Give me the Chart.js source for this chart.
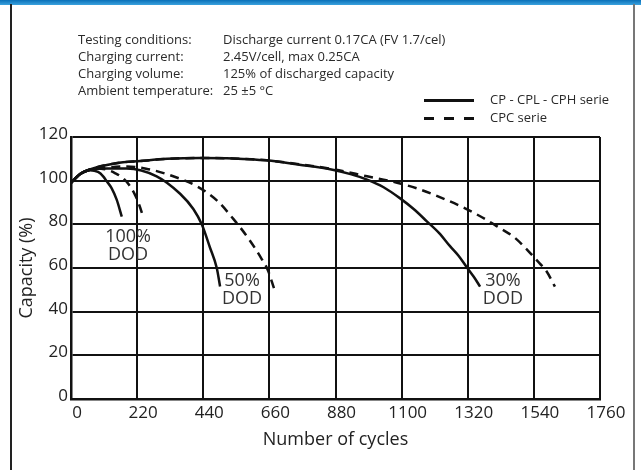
<!DOCTYPE html>
<html><head><meta charset="utf-8">
<script src="https://cdn.jsdelivr.net/npm/chart.js@4"></script>
<style>
html,body{margin:0;padding:0;background:#fff;}
#wrap{position:relative;width:641px;height:470px;overflow:hidden;background:#fff;font-family:"Open Sans",sans-serif;color:#2a2a2a;}
#topbar{position:absolute;left:0;top:0;width:641px;height:5px;background:linear-gradient(#0a70b8,#3aa2de);}
#lb{position:absolute;left:10px;top:4px;width:2px;height:466px;background:#222;}
#rb{position:absolute;left:633px;top:4px;width:2px;height:466px;background:#777;}
.note{position:absolute;font-size:13px;line-height:17px;white-space:nowrap;}
.lg{position:absolute;height:2.5px;background:#111;}
canvas{position:absolute;left:0;top:0;}
</style></head>
<body>
<div id="wrap">
  <canvas id="c" width="641" height="470"></canvas>
  <div id="topbar"></div><div id="lb"></div><div id="rb"></div>
  <div class="note" style="left:78px;top:31px;">Testing conditions:<br>Charging current:<br>Charging volume:<br>Ambient temperature:</div>
  <div class="note" style="left:223px;top:31px;">Discharge current 0.17CA (FV 1.7/cel)<br>2.45V/cell, max 0.25CA<br>125% of discharged capacity<br>25 ±5 °C</div>
  <div class="lg" style="left:424px;top:99px;width:50px;"></div>
  <div class="lg" style="left:424px;top:117px;width:10px;"></div>
  <div class="lg" style="left:444px;top:117px;width:10px;"></div>
  <div class="lg" style="left:464px;top:117px;width:10px;"></div>
  <div class="note" style="left:490px;top:91px;">CP - CPL - CPH serie</div>
  <div class="note" style="left:490px;top:109px;">CPC serie</div>
</div>
<script>
// ---- data ----
const xTickValues = [0, 220, 440, 660, 880, 1100, 1320, 1540, 1760];
const yTickValues = [0, 20, 40, 60, 80, 100, 120];

// CP - CPL - CPH serie (solid)
const cyc100Solid = [0, 30, 63, 90, 107, 119, 135, 152, 169];
const cap100Solid = [99, 103, 104.8, 104, 102, 99.7, 96.6, 91.3, 83.5];

const cyc50Solid = [0, 30, 63, 120, 185, 285, 363, 407, 435, 462, 485, 496];
const cap50Solid = [99, 103, 105, 105.6, 105.6, 102, 94, 87, 80, 69.5, 60, 51.5];

const cyc30Solid = [0, 30, 60, 150, 230, 320, 430, 540, 650, 760, 870, 930, 985, 1040, 1094, 1140, 1183, 1225, 1261, 1290, 1316, 1340, 1361];
const cap30Solid = [99, 103, 105, 108, 109, 110, 110.4, 110.2, 109.3, 107.3, 105, 103, 100.5, 97, 92, 87, 81.5, 76, 70, 65.5, 60.5, 56, 51.5];

// CPC serie (dashed)
const cyc100Dash = [0, 30, 63, 100, 130, 146, 170, 191, 213, 228, 241];
const cap100Dash = [99, 103, 105, 105.5, 104.5, 103.5, 101.5, 98.5, 93.5, 88.5, 83];

const cyc50Dash = [0, 30, 63, 120, 185, 250, 340, 418, 485, 540, 593, 635, 655, 676];
const cap50Dash = [99, 103, 105, 106, 106.5, 105.5, 102, 97.5, 91, 82.5, 73, 64, 59, 50.5];

const cyc30Dash = [0, 30, 60, 150, 230, 320, 430, 540, 650, 760, 870, 985, 1072, 1150, 1261, 1316, 1383, 1430, 1471, 1510, 1538, 1560, 1582, 1610];
const cap30Dash = [99, 103, 105, 108, 109, 110, 110.4, 110.2, 109.3, 107.5, 105.3, 102, 99.5, 96.5, 90.5, 87, 82, 78, 74.5, 69.5, 65.3, 62, 58.5, 51.5];

// DOD annotations: [cycles, capacity, text line 1, text line 2]
const dodLabels = [
  [190, 70, "100%", "DOD"],
  [569, 50, "50%", "DOD"],
  [1437, 50, "30%", "DOD"]
];

const zip = (xs, ys) => xs.map((x, i) => ({x: x, y: ys[i]}));
function ds(xs, ys, dashed) {
  return {
    data: zip(xs, ys), showLine: true, borderColor: '#111', borderWidth: 2.5,
    borderDash: dashed ? [9, 6] : [], pointRadius: 0, fill: false,
    cubicInterpolationMode: 'monotone'
  };
}

const dodPlugin = {
  id: 'dod',
  afterDatasetsDraw(chart) {
    const {ctx, scales: {x, y}} = chart;
    ctx.save();
    ctx.font = '18px "Open Sans"';
    ctx.fillStyle = '#333';
    ctx.textAlign = 'center';
    ctx.textBaseline = 'middle';
    dodLabels.forEach(([cx, cy, t1, t2]) => {
      const px = x.getPixelForValue(cx), py = y.getPixelForValue(cy);
      ctx.fillText(t1, px, py - 9);
      ctx.fillText(t2, px, py + 9);
    });
    ctx.restore();
  }
};

new Chart(document.getElementById('c'), {
  type: 'scatter',
  data: {datasets: [
    ds(cyc100Dash, cap100Dash, true), ds(cyc50Dash, cap50Dash, true), ds(cyc30Dash, cap30Dash, true),
    ds(cyc100Solid, cap100Solid, false), ds(cyc50Solid, cap50Solid, false), ds(cyc30Solid, cap30Solid, false)
  ]},
  options: {
    responsive: false, animation: false,
    layout: {padding: {left: 0, top: 137, right: 41, bottom: 1}},
    plugins: {legend: {display: false}, tooltip: {enabled: false}},
    scales: {
      x: {
        type: 'linear', min: 0, max: 1760,
        afterBuildTicks: s => { s.ticks = xTickValues.map(v => ({value: v})); },
        afterFit: s => { s.height = 70; },
        grid: {color: '#111', lineWidth: 2, drawTicks: false},
        border: {color: '#111', width: 2.5},
        ticks: {color: '#222', font: {family: '"Open Sans"', size: 17}, padding: 4, labelOffset: 6, maxRotation: 0, autoSkip: false,
                callback: v => String(v)},
        title: {display: true, text: 'Number of cycles', color: '#222', font: {family: '"Open Sans"', size: 18}, padding: {top: 0, bottom: 18}}
      },
      y: {
        type: 'linear', min: 0, max: 120,
        afterBuildTicks: s => { s.ticks = yTickValues.map(v => ({value: v})); },
        afterFit: s => { s.width = 71; },
        grid: {color: '#111', lineWidth: 2, drawTicks: false},
        border: {color: '#111', width: 2.5},
        ticks: {color: '#222', font: {family: '"Open Sans"', size: 17}, padding: 3, labelOffset: -3, callback: v => String(v)},
        title: {display: true, text: 'Capacity (%)', color: '#222', font: {family: '"Open Sans"', size: 18}, padding: {top: 16, bottom: 0}}
      }
    }
  },
  plugins: [dodPlugin]
});
</script>
</body></html>
